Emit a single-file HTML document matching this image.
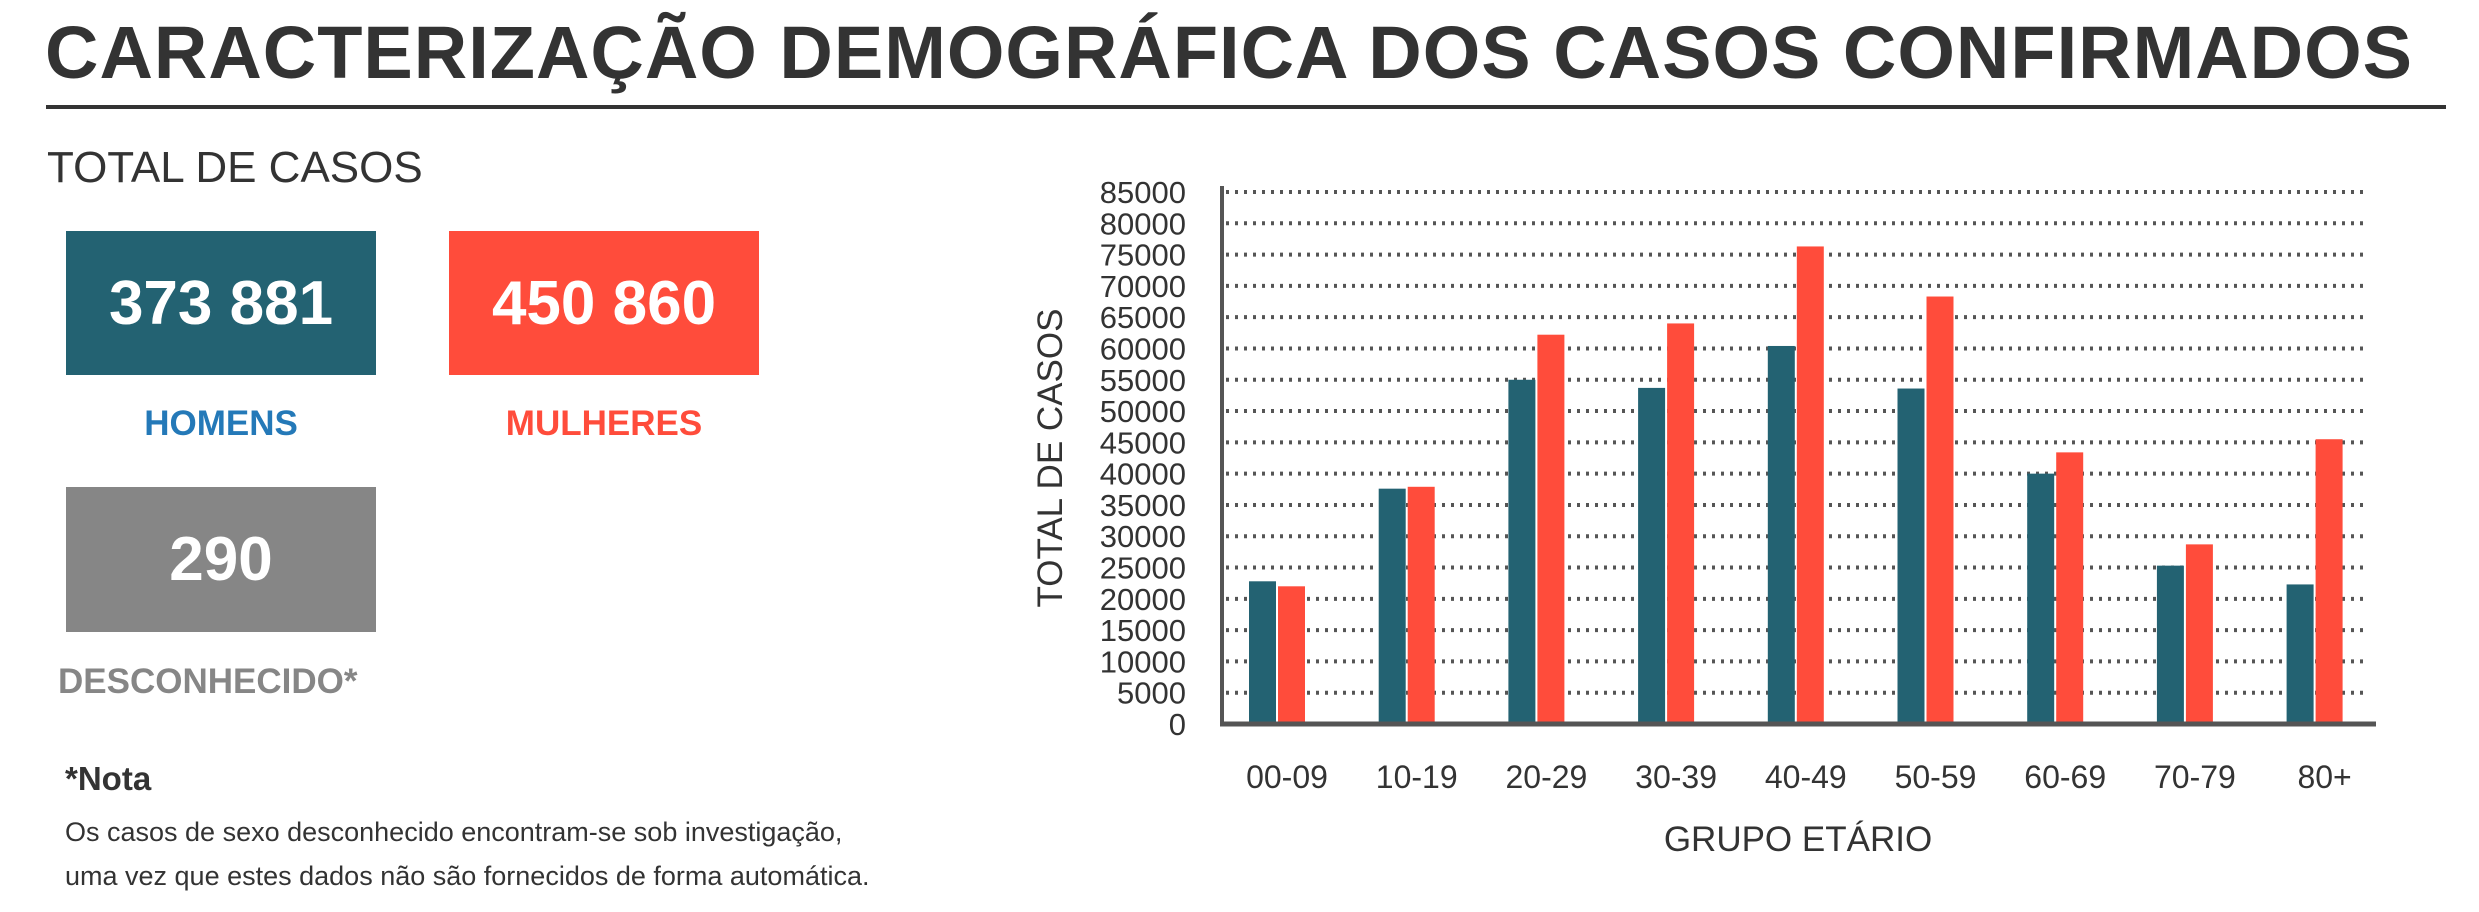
<!DOCTYPE html>
<html><head><meta charset="utf-8"><style>
body{margin:0;width:2479px;height:912px;background:#fff;font-family:"Liberation Sans",sans-serif;position:relative;overflow:hidden;color:#333}
.a{position:absolute;white-space:nowrap}
.box{position:absolute;color:#fff;font-weight:bold;font-size:62px;display:flex;align-items:center;justify-content:center}
.lbl{position:absolute;font-weight:bold;font-size:35px;text-align:center}
</style></head><body>
<div class="a" style="left:45px;top:10px;font-size:74px;font-weight:bold;letter-spacing:1px;color:#333">CARACTERIZAÇÃO DEMOGRÁFICA DOS CASOS CONFIRMADOS</div>
<div class="a" style="left:46px;top:105px;width:2400px;height:4px;background:#333"></div>
<div class="a" style="left:47px;top:143px;font-size:44px">TOTAL DE CASOS</div>
<div class="box" style="left:66px;top:231px;width:310px;height:144px;background:#236272">373 881</div>
<div class="box" style="left:449px;top:231px;width:310px;height:144px;background:#ff4c3b">450 860</div>
<div class="box" style="left:66px;top:487px;width:310px;height:145px;background:#868686">290</div>
<div class="lbl" style="left:66px;width:310px;top:404px;color:#2479b8">HOMENS</div>
<div class="lbl" style="left:449px;width:310px;top:404px;color:#ff4c3b">MULHERES</div>
<div class="a" style="left:58px;top:662px;font-size:35px;font-weight:bold;color:#868686">DESCONHECIDO*</div>
<div class="a" style="left:65px;top:760px;font-size:33px;font-weight:bold;color:#333">*Nota</div>
<div class="a" style="left:65px;top:810px;font-size:27px;line-height:44px;color:#333">Os casos de sexo desconhecido encontram-se sob investigação,<br>uma vez que estes dados não são fornecidos de forma automática.</div>
<svg id="chart" style="position:absolute;left:0;top:0" width="2479" height="912"></svg>
<script>
const categories=["00-09","10-19","20-29","30-39","40-49","50-59","60-69","70-79","80+"];
const menValues=[22800,37600,55000,53700,60400,53600,40000,25300,22300];
const womenValues=[22000,37900,62200,64000,76300,68300,43400,28700,45500];
const yTicks=[0,5000,10000,15000,20000,25000,30000,35000,40000,45000,50000,55000,60000,65000,70000,75000,80000,85000];
const NS="http://www.w3.org/2000/svg";
const svg=document.getElementById('chart');
const x0=1222,x1=2372,yZero=724,yTop=192,yMax=85000;
function y(v){return yZero-(v/yMax)*(yZero-yTop);}
function xc(i){return 1277+i*129.7;}
function mk(t,a){const e=document.createElementNS(NS,t);for(const k in a)e.setAttribute(k,a[k]);svg.appendChild(e);return e;}
yTicks.forEach(t=>{
  if(t>0){const g=mk('line',{x1:x0+4,x2:2368,y1:y(t),y2:y(t),stroke:'#555','stroke-width':4,'stroke-dasharray':'3 6'});
  
  }
  const l=mk('text',{x:1186,y:y(t)+11,'text-anchor':'end','font-size':31,fill:'#333','font-family':'Liberation Sans'});
  l.textContent=t;
  
  
});
categories.forEach((c,i)=>{
  const m=mk('rect',{x:xc(i)-28,y:y(menValues[i]),width:27,height:yZero-y(menValues[i]),fill:'#236272'});
  
  
  const w=mk('rect',{x:xc(i)+1,y:y(womenValues[i]),width:27,height:yZero-y(womenValues[i]),fill:'#ff4c3b'});
  
  
  const l=mk('text',{x:xc(i)+10,y:788,'text-anchor':'middle','font-size':32,fill:'#333','font-family':'Liberation Sans'});
  l.textContent=c;
  
  
});
const ya=mk('line',{x1:x0,x2:x0,y1:186,y2:726,stroke:'#555','stroke-width':4});


const xa=mk('line',{x1:x0-2,x2:2376,y1:724,y2:724,stroke:'#555','stroke-width':5});


const xt=mk('text',{x:1798,y:851,'text-anchor':'middle','font-size':35,fill:'#333','font-family':'Liberation Sans'});
xt.textContent='GRUPO ETÁRIO';


const yt=mk('text',{x:0,y:0,'text-anchor':'middle','font-size':35,fill:'#333','font-family':'Liberation Sans',transform:'translate(1062,458) rotate(-90)'});
yt.textContent='TOTAL DE CASOS';


</script>
</body></html>
